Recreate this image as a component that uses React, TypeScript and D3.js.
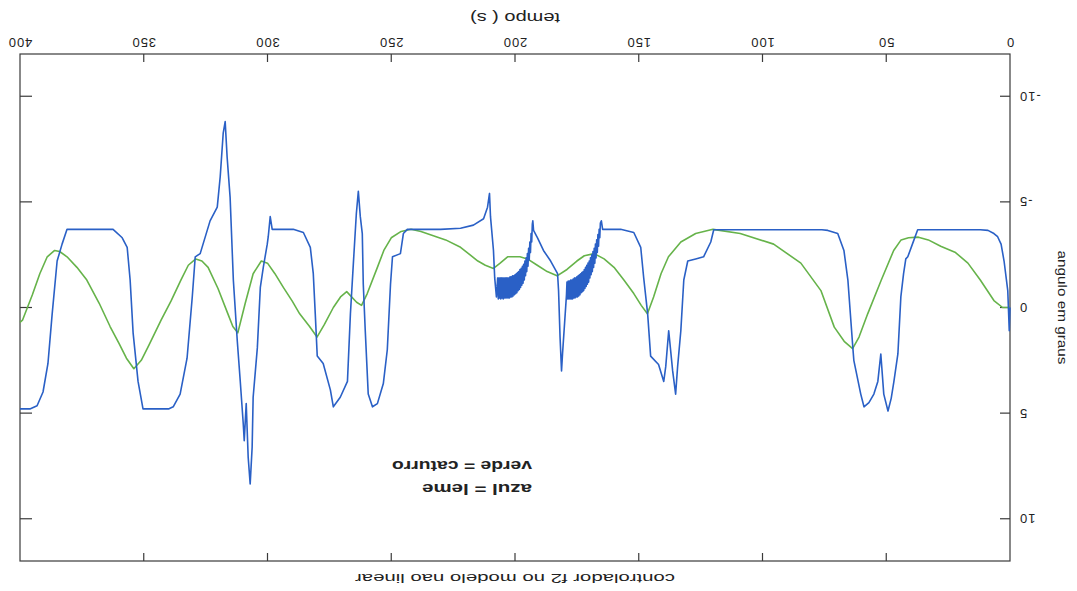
import React from "react";
import * as d3 from "d3";

const W = 1077;
const H = 591;

const timeTicks = [0, 50, 100, 150, 200, 250, 300, 350, 400];
const angleTicks = [-10, -5, 0, 5, 10];

const titleText = "controlador f2 no modelo nao linear";
const xTitle = "tempo ( s)";
const yTitle = "angulo em graus";
const legendLines = ["azul = leme", "verde = caturro"];

// caturro (pitch) angle, degrees, versus time in seconds
const caturro: [number, number][] = [
  [0, 0], [3, 0], [6.5, -0.33], [12, -1.3], [17, -2.1], [22, -2.6], [28, -2.9], [33, -3.2],
  [37, -3.33], [41, -3.3], [44, -3.2], [47, -2.7], [52, -1.3], [57.5, 0.3], [61, 1.4],
  [63.6, 1.95], [67, 1.6], [71, 0.93], [76.4, -0.8], [84.5, -2.1], [95.5, -3.0], [109, -3.5],
  [120, -3.7], [127, -3.5], [133, -3.1], [138, -2.4], [141, -1.6], [144, -0.5], [146.5, 0.3],
  [149, -0.1], [152, -0.66], [156, -1.3], [160, -1.9], [164, -2.3], [168, -2.55], [172, -2.45],
  [175, -2.2], [179, -1.8], [183, -1.5], [187, -1.7], [191, -2.0], [195, -2.3], [198, -2.4],
  [203, -2.4], [206, -2.1], [208.7, -1.85], [212, -2.0], [215, -2.2], [222, -2.85], [228, -3.2],
  [233, -3.4], [238, -3.6], [242, -3.7], [246, -3.6], [250, -3.3], [253, -2.7], [255.6, -1.9],
  [259.7, -0.66], [262, -0.1], [264, -0.25], [268, -0.75], [270.5, -0.5], [273.4, 0], [277, 0.8],
  [280, 1.4], [283, 0.9], [287, 0.3], [290, -0.3], [293.6, -0.95], [297, -1.6], [300, -2.1],
  [302.5, -2.2], [305.8, -1.6], [309, -0.2], [312, 1.2], [314, 0.9], [316, 0.3], [320, -0.9],
  [324, -1.9], [326.5, -2.2], [329, -2.3], [332, -2.0], [335, -1.3], [339, -0.3], [343, 0.6],
  [348, 1.8], [351, 2.5], [354, 2.9], [357, 2.4], [360, 1.7], [363.6, 0.9], [368, -0.2],
  [373, -1.3], [377, -1.9], [381, -2.4], [384, -2.65], [386, -2.7], [389, -2.4], [392, -1.6],
  [395, -0.6], [399, 0.6], [400, 0.7],
];

// leme (rudder) angle, degrees: first stretch up to the first chattering interval
const lemeInicio: [number, number][] = [
  [0, 0], [0.3, 1.1], [0.9, -0.8], [2.4, -2.2], [3.6, -3.0], [5, -3.35], [6.5, -3.5], [8.9, -3.65],
  [12, -3.68], [37.3, -3.68], [38.8, -3.2], [41.3, -2.4], [42.1, -2.3], [43, -1.6], [44.1, -0.5],
  [45.3, 2.2], [46.9, 3.5], [48, 4.3], [49.3, 4.9], [51, 4.1], [52.2, 2.2], [53.4, 3.5], [55, 4.1],
  [57, 4.5], [59, 4.7], [60.3, 4.1], [63.1, 2.5], [63.5, 1.9], [65.5, -1.3], [67.1, -2.7],
  [69.6, -3.5], [73.6, -3.65], [76, -3.68], [119.7, -3.68], [120.9, -3.1], [123.8, -2.4],
  [127, -2.3], [130.2, -2.2], [131.8, -1.3], [133, 1.1], [134.3, 2.8], [135.1, 4.1], [136.3, 3.0],
  [137.9, 1.1], [139.1, 2.8], [139.9, 3.5], [142, 2.7], [145.2, 2.3], [146.4, 0.3], [148, -1.4],
  [149.2, -2.85], [152, -3.55], [157.3, -3.7], [164.6, -3.7], [165.1, -4.1],
];

// first chattering interval of the rudder
const lemeRuido1: [number, number][] = [
  [165.5, -4.0], [165.75, -3.3], [166, -3.7], [166.25, -2.9], [166.5, -3.45], [166.75, -2.6],
  [167, -3.2], [167.25, -2.35], [167.5, -3.0], [167.75, -2.1], [168, -2.8], [168.25, -1.9],
  [168.5, -2.65], [168.75, -1.7], [169, -2.5], [169.25, -1.55], [169.5, -2.35], [169.75, -1.4],
  [170, -2.2], [170.25, -1.2], [170.5, -2.1], [170.75, -1.1], [171, -2.0], [171.25, -1.0],
  [171.5, -1.9], [171.75, -0.9], [172, -1.8], [172.25, -0.8], [172.5, -1.7], [172.75, -0.75],
  [173, -1.65], [173.25, -0.7], [173.5, -1.6], [173.75, -0.6], [174, -1.55], [174.25, -0.55],
  [174.5, -1.5], [174.75, -0.5], [175, -1.45], [175.25, -0.5], [175.5, -1.4], [175.75, -0.45],
  [176, -1.4], [176.25, -0.45], [176.5, -1.35], [176.75, -0.4], [177, -1.3], [177.25, -0.4],
  [177.5, -1.3], [177.75, -0.4], [178, -1.25], [178.25, -0.4], [178.5, -1.25], [178.75, -0.4],
  [179, -1.2],
];

const lemeMeio: [number, number][] = [
  [179.2, -0.6], [180.8, 2.2], [181.2, 3.0], [181.8, 1.4], [182.4, -0.8], [182.8, -1.6],
  [185.6, -2.2], [188.5, -2.7], [190.9, -3.3], [192.5, -3.65], [192.8, -4.1],
];

// second chattering interval of the rudder
const lemeRuido2: [number, number][] = [
  [193, -3.95], [193.25, -3.1], [193.5, -3.5], [193.75, -2.6], [194, -3.1], [194.25, -2.25],
  [194.5, -2.8], [194.75, -1.95], [195, -2.55], [195.25, -1.7], [195.5, -2.35], [195.75, -1.5],
  [196, -2.2], [196.25, -1.3], [196.5, -2.05], [196.75, -1.15], [197, -1.95], [197.25, -1.05],
  [197.5, -1.85], [197.75, -0.95], [198, -1.8], [198.25, -0.85], [198.5, -1.7], [198.75, -0.8],
  [199, -1.65], [199.25, -0.7], [199.5, -1.6], [199.75, -0.65], [200, -1.55], [200.25, -0.6],
  [200.5, -1.5], [200.75, -0.55], [201, -1.5], [201.25, -0.5], [201.5, -1.45], [201.75, -0.5],
  [202, -1.45], [202.25, -0.45], [202.5, -1.4], [202.75, -0.45], [203, -1.4], [203.25, -0.45],
  [203.5, -1.4], [203.75, -0.45], [204, -1.4], [204.25, -0.45], [204.5, -1.4], [204.75, -0.4],
  [205, -1.4], [205.25, -0.45], [205.5, -1.4], [205.75, -0.4], [206, -1.4], [206.25, -0.45],
  [206.5, -1.4], [206.75, -0.4], [207, -1.4],
];

const lemeFim: [number, number][] = [
  [207.5, -0.5], [208.2, -1.4], [208.7, -2.7], [209.9, -4.3], [210.3, -5.4], [211.1, -4.75],
  [212.7, -4.2], [216.8, -3.9], [222, -3.75], [230.1, -3.7], [243.5, -3.7], [245.1, -3.5],
  [246.3, -2.55], [249.5, -2.4], [250.3, -1.1], [251.6, 2.0], [253.2, 3.6], [255.6, 4.55],
  [257.6, 4.7], [259.3, 4.1], [260.5, 1.1], [261.3, -1.1], [261.7, -3.5], [262.5, -4.3],
  [263.3, -5.5], [264.1, -4.45], [265.3, -2.1], [266.5, 0.3], [267.7, 3.5], [270.6, 4.25],
  [273.4, 4.7], [274.6, 3.9], [277.5, 2.65], [279.9, 2.3], [280.7, 0.3], [281.5, -1.6],
  [282.7, -2.85], [285.5, -3.55], [289.6, -3.7], [298.1, -3.7], [298.9, -4.3], [299.7, -3.35],
  [300.1, -3.0], [301.7, -1.9], [302.9, -0.95], [304.1, 1.9], [305.8, 4.25], [306.2, 6.6],
  [307, 8.35], [307.8, 7.1], [308.6, 4.55], [309.4, 6.3], [309.8, 5.5], [311, 3.5], [312.2, 1.6],
  [313.8, -1.3], [315.1, -5.2], [316.3, -7.1], [317.1, -8.8], [317.9, -8.25], [319.1, -6.2],
  [320.3, -4.75], [323.2, -4.1], [327.2, -2.55], [329.2, -2.4], [330.4, -0.5], [332.5, 2.4],
  [335.3, 4.1], [338.1, 4.7], [340, 4.8], [350.3, 4.8], [352.3, 3.5], [354.3, 1.2], [355.5, -1.3],
  [356.7, -2.85], [358.7, -3.3], [362.4, -3.7], [381, -3.7], [383, -3.0], [385, -2.2], [387, 0.3],
  [388.7, 2.65], [390.7, 4.0], [393.1, 4.65], [396, 4.8], [400, 4.8],
];

const leme = [...lemeInicio, ...lemeRuido1, ...lemeMeio, ...lemeRuido2, ...lemeFim];

const FRAME = { left: 67, right: 1057, top: 30, bottom: 537 };
const FONT = "'Liberation Sans', Arial, Helvetica, sans-serif";
const AXIS_COLOR = "#3a3a3a";
const BLUE = "#2a60c6";
const GREEN = "#66b34a";

export default function App() {
  const x = d3.scaleLinear().domain([0, 400]).range([FRAME.left, FRAME.right]);
  const y = d3.scaleLinear().domain([-12, 12]).range([FRAME.bottom, FRAME.top]);
  const line = d3
    .line<[number, number]>()
    .x((d) => x(d[0]))
    .y((d) => y(d[1]));

  const tickLen = 8;
  const innerX = timeTicks.filter((t) => t > 0 && t < 400);

  return (
    <svg
      width={W}
      height={H}
      style={{ position: "absolute", left: 0, top: 0, background: "#fff" }}
      fontFamily={FONT}
    >
      <rect x={0} y={0} width={W} height={H} fill="#fff" />
      {/* the page is printed upside down */}
      <g transform={`rotate(180 ${W / 2} ${H / 2})`}>
        {/* frame */}
        <rect
          x={FRAME.left}
          y={FRAME.top}
          width={FRAME.right - FRAME.left}
          height={FRAME.bottom - FRAME.top}
          fill="none"
          stroke={AXIS_COLOR}
          strokeWidth={1.2}
        />
        {/* time ticks, bottom and top, pointing inward */}
        {innerX.map((t) => (
          <g key={`xt${t}`} stroke={AXIS_COLOR} strokeWidth={1.2}>
            <line x1={x(t)} x2={x(t)} y1={FRAME.bottom} y2={FRAME.bottom - tickLen} />
            <line x1={x(t)} x2={x(t)} y1={FRAME.top} y2={FRAME.top + tickLen} />
          </g>
        ))}
        {timeTicks.map((t) => (
          <text
            key={`xl${t}`}
            x={x(t)}
            y={FRAME.bottom + 16}
            textAnchor="middle"
            fontSize={13}
            letterSpacing={1}
            fill="#222"
          >
            {t}
          </text>
        ))}
        {/* angle ticks, left and right, pointing inward */}
        {angleTicks.map((v) => (
          <g key={`yt${v}`} stroke={AXIS_COLOR} strokeWidth={1.2}>
            <line x1={FRAME.left} x2={FRAME.left + tickLen + 2} y1={y(v)} y2={y(v)} />
            <line x1={FRAME.right} x2={FRAME.right - tickLen - 4} y1={y(v)} y2={y(v)} />
          </g>
        ))}
        {angleTicks.map((v) => (
          <text
            key={`yl${v}`}
            x={FRAME.left - 9}
            y={y(v) + 4.5}
            textAnchor="end"
            fontSize={13}
            letterSpacing={1}
            fill="#222"
          >
            {v}
          </text>
        ))}

        {/* series */}
        <path d={line(caturro) ?? ""} fill="none" stroke={GREEN} strokeWidth={1.6} strokeLinejoin="round" />
        <path d={line(leme) ?? ""} fill="none" stroke={BLUE} strokeWidth={1.6} strokeLinejoin="round" />

        {/* legend note */}
        {legendLines.map((s, i) => (
          <text
            key={s}
            x={545}
            y={107 + i * 23}
            fontSize={15}
            fontWeight="bold"
            fill="#222"
            textLength={i === 0 ? 110 : 140}
            lengthAdjust="spacingAndGlyphs"
          >
            {s}
          </text>
        ))}

        {/* titles */}
        <text
          x={(FRAME.left + FRAME.right) / 2}
          y={17}
          textAnchor="middle"
          fontSize={13}
          fill="#222"
          textLength={320}
          lengthAdjust="spacingAndGlyphs"
        >
          {titleText}
        </text>
        <text
          x={(FRAME.left + FRAME.right) / 2}
          y={578}
          textAnchor="middle"
          fontSize={14}
          fill="#222"
          textLength={90}
          lengthAdjust="spacingAndGlyphs"
        >
          {xTitle}
        </text>
        <text
          transform={`translate(19 ${y(0)}) rotate(-90)`}
          textAnchor="middle"
          fontSize={13}
          fill="#222"
          textLength={114}
          lengthAdjust="spacingAndGlyphs"
        >
          {yTitle}
        </text>
      </g>
    </svg>
  );
}
